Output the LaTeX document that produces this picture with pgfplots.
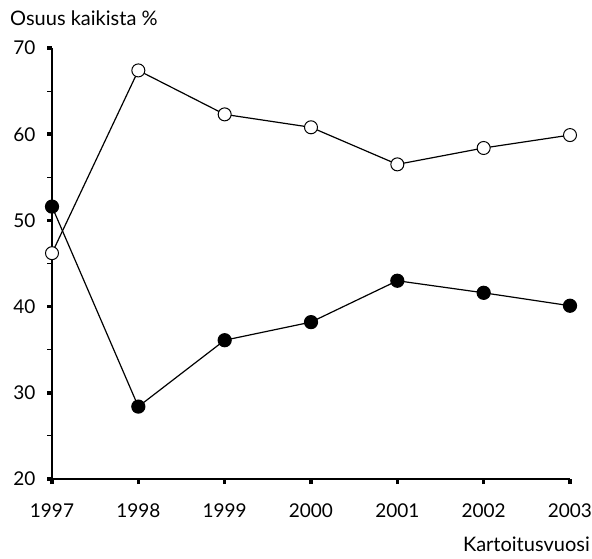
\documentclass[border=0pt]{standalone}
\usepackage{pgfplots}
\pgfplotsset{compat=1.18}
\usepackage{fontspec}
\setmainfont{Lato}
\begin{document}
\begin{tikzpicture}
\useasboundingbox (-52pt,-79pt) rectangle (540pt,479pt);
\begin{axis}[
  at={(0,0)}, anchor=south west,
  scale only axis, width=518pt, height=431pt,
  xmin=1997, xmax=2003, ymin=20, ymax=70,
  axis x line*=bottom, axis y line*=left,
  axis line style={line width=1.6pt, -},
  xtick={1997,...,2003}, ytick={20,30,...,70},
  minor ytick={25,35,...,65},
  x tick label style={/pgf/number format/1000 sep={}, yshift=-16pt},
  y tick label style={xshift=-8pt},
  tick label style={font=\fontsize{19}{22}\selectfont},
  /pgf/number format/assume math mode=true,
  tick align=outside,
  major tick length=5pt, minor tick length=5pt,
  tick style={black},
  every major tick/.append style={line width=3.5pt},
  every minor tick/.append style={line width=0.9pt},
  clip=false,
]
\addplot[black, line width=1.2pt, mark=*, mark options={fill=white, line width=1pt}, mark size=6.5pt]
coordinates {(1997,46.2) (1998,67.4) (1999,62.3) (2000,60.8) (2001,56.5) (2002,58.4) (2003,59.9)};
\addplot[black, line width=1.2pt, mark=*, mark options={fill=black}, mark size=6.5pt]
coordinates {(1997,51.6) (1998,28.4) (1999,36.1) (2000,38.2) (2001,43.0) (2002,41.6) (2003,40.1)};
\node[anchor=base west, font=\fontsize{20}{24}\selectfont, inner sep=0pt] at ([xshift=-42pt,yshift=23pt]rel axis cs:0,1) {Osuus kaikista \%};
\node[anchor=base east, font=\fontsize{20}{24}\selectfont, inner sep=0pt] at ([xshift=20pt,yshift=-72pt]rel axis cs:1,0) {Kartoitusvuosi};
\end{axis}
\end{tikzpicture}
\end{document}
